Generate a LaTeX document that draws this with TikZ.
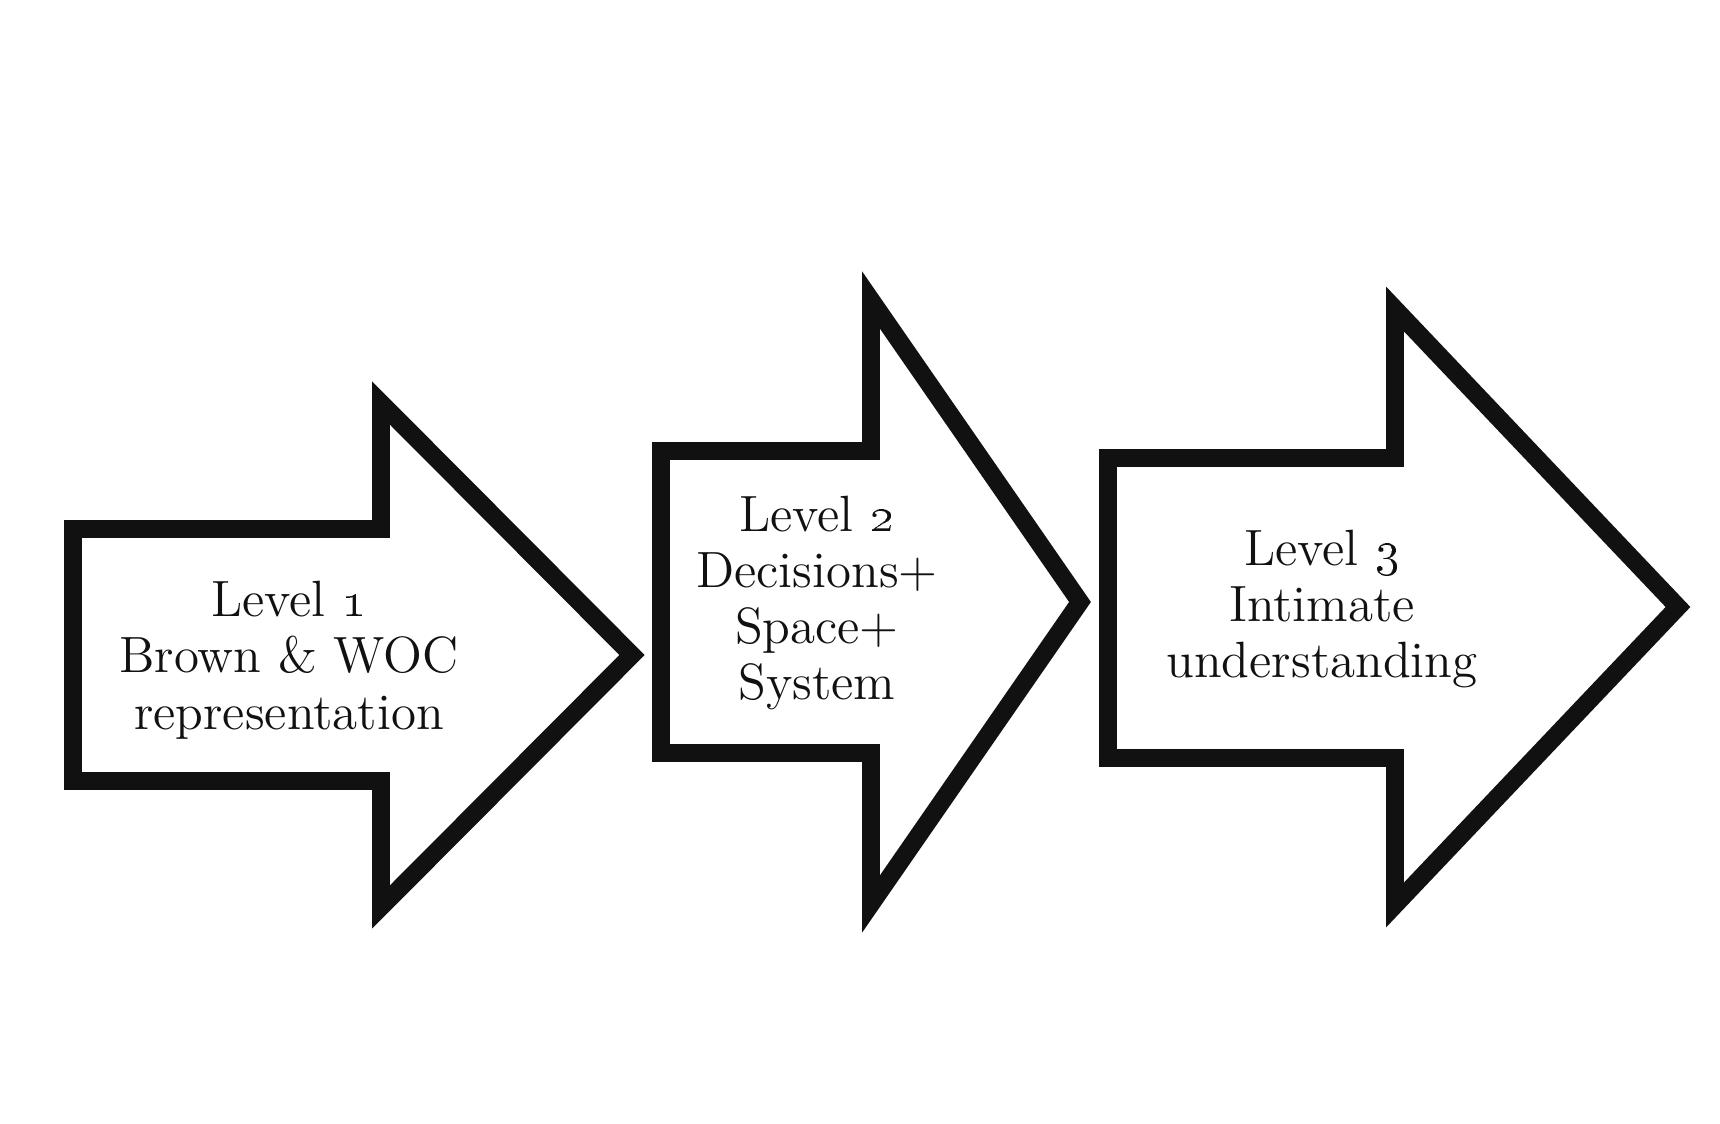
\documentclass[tikz,border=0pt]{standalone}
\usepackage{tikz}
\usepackage{xcolor}
\usetikzlibrary{calc, positioning}

\definecolor{inkdark}{HTML}{111111}

\tikzset{
    levelarrow/.style={draw=inkdark, line width=5.1pt, line join=miter, fill=white},
    levellabel/.style={text=inkdark, align=center, inner sep=0pt, font=\fontsize{14.5pt}{16pt}\selectfont}
}

\begin{document}
\begin{tikzpicture}[x=0.01cm, y=-0.01cm]
                        \useasboundingbox (0, 0) rectangle (1720, 1124);

                        \draw[levelarrow] (73, 529) -- (381, 529) -- (381, 403) -- (632, 655)
                            -- (381, 907) -- (381, 781) -- (73, 781) -- cycle;
                        \draw[levelarrow] (661, 451) -- (871, 451) -- (871, 300) -- (1080, 602)
                            -- (871, 904) -- (871, 753) -- (661, 753) -- cycle;
                        \draw[levelarrow] (1108, 458) -- (1395, 458) -- (1395, 309) -- (1678, 607)
                            -- (1395, 905) -- (1395, 758) -- (1108, 758) -- cycle;

                        \node[levellabel] (one) at (289, 660) {Level \oldstylenums{1}\\Brown \& WOC\\representation};
                        \node[levellabel] (two) at (817, 603) {Level \oldstylenums{2}\\Decisions+\\Space+\\System};
                        \node[levellabel] (three) at (1322, 609) {Level \oldstylenums{3}\\Intimate\\understanding};
                    \end{tikzpicture}
\end{document}
